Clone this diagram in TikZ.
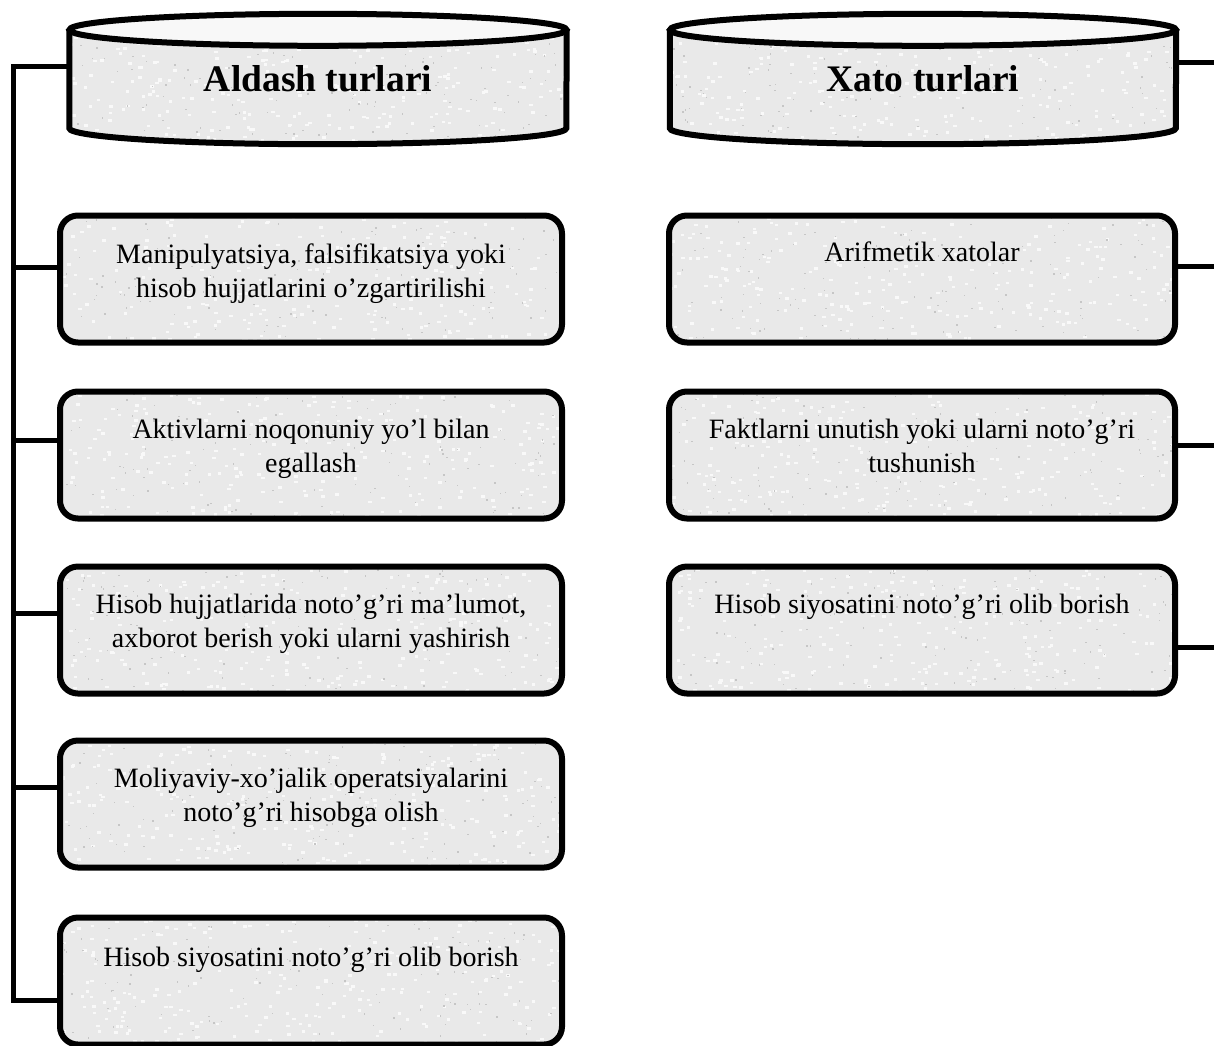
\documentclass[tikz,border=0pt]{standalone}
\usepackage{fontspec}
\setmainfont{Liberation Serif}
\usetikzlibrary{calc}
\definecolor{granite}{HTML}{E9E9E9}
\definecolor{capfill}{HTML}{F8F8F8}
\definecolor{speck}{HTML}{C6C6C6}
\definecolor{lightspeck}{HTML}{F9F9F9}
\pgfmathsetseed{7}
\tikzset{
  speckle/.style 2 args={path picture={
    \foreach \i in {1,...,280}{\fill[lightspeck, sharp corners] ($(path picture bounding box.south west)+({rnd*#1pt},{rnd*#2pt})$) rectangle ++(3.5pt,2.5pt);}
    \foreach \i in {1,...,140}{\fill[speck, sharp corners] ($(path picture bounding box.south west)+({rnd*#1pt},{rnd*#2pt})$) rectangle ++(1.4pt,1.4pt);}
  }},
  boxshape/.style={draw=black, line width=6pt, rounded corners=18pt, fill=granite,
    minimum width=502pt, minimum height=127pt, inner sep=0pt, speckle={510}{135}},
  txt/.style={font=\fontsize{28}{34}\selectfont, align=center, inner sep=0pt, anchor=north},
  ttl/.style={font=\fontsize{37.5}{44}\selectfont\bfseries, inner sep=0pt,
    minimum height=98pt},
  outline/.style={line width=6pt},
  conn/.style={line width=5pt},
}
\begin{document}
\begin{tikzpicture}[x=1pt,y=-1pt]
\useasboundingbox (0,0) rectangle (1214,1045);

% ---------- cylinders ----------
\node[ttl, minimum width=497pt] (c1) at (318,79) {};
\node[ttl, minimum width=506pt] (c2) at (923,79) {};
\foreach \c/\r in {c1/248.5, c2/253}{
  \fill[granite, speckle={520}{120}] (\c.north west) -- (\c.south west)
     arc[start angle=180, end angle=360, x radius=\r pt, y radius=16pt] -- (\c.north east) -- cycle;
  \draw[outline] (\c.north west) -- (\c.south west)
     arc[start angle=180, end angle=360, x radius=\r pt, y radius=16pt] -- (\c.north east);
  \draw[outline, fill=capfill] (\c.north) ellipse[x radius=\r pt, y radius=16pt];
}
\node[ttl] (t1) at (c1.center) {Aldash turlari};
\node[ttl] (t2) at (c2.center) {Xato turlari};

% ---------- left boxes ----------
\node[boxshape] (b1) at (311,279) {};
\node[boxshape] (b2) at (311,455) {};
\node[boxshape] (b3) at (311,630) {};
\node[boxshape] (b4) at (311,804) {};
\node[boxshape] (b5) at (311,981) {};
\node[txt] (tb1) at ($(b1.north)+(0,31)$) {Manipulyatsiya, falsifikatsiya yoki\\hisob hujjatlarini o’zgartirilishi};
\node[txt] (tb2) at ($(b2.north)+(0,30)$) {Aktivlarni noqonuniy yo’l bilan\\egallash};
\node[txt] (tb3) at ($(b3.north)+(0,30)$) {Hisob hujjatlarida noto’g’ri ma’lumot,\\axborot berish yoki ularni yashirish};
\node[txt] (tb4) at ($(b4.north)+(0,30)$) {Moliyaviy-xo’jalik operatsiyalarini\\noto’g’ri hisobga olish};
\node[txt] (tb5) at ($(b5.north)+(0,32)$) {Hisob siyosatini noto’g’ri olib borish};

% ---------- right boxes ----------
\node[boxshape, minimum width=506pt] (r1) at (922,279) {};
\node[boxshape, minimum width=506pt] (r2) at (922,455) {};
\node[boxshape, minimum width=506pt] (r3) at (922,630) {};
\node[txt] (tr1) at ($(r1.north)+(0,29)$) {Arifmetik xatolar};
\node[txt] (tr2) at ($(r2.north)+(0,30)$) {Faktlarni unutish yoki ularni noto’g’ri\\tushunish};
\node[txt] (tr3) at ($(r3.north)+(0,30)$) {Hisob siyosatini noto’g’ri olib borish};

% ---------- left spine ----------
\coordinate (sp1) at (13,66);
\coordinate (sp2) at (13,1000);
\draw[conn] ([yshift=13pt]c1.west) -- (sp1) -- (sp2) -- ([yshift=-19pt]b5.west);
\draw[conn] ([yshift=12pt]b1.west) -- ([yshift=12pt]b1.west -| sp1);
\draw[conn] ([yshift=15pt]b2.west) -- ([yshift=15pt]b2.west -| sp1);
\draw[conn] ([yshift=17pt]b3.west) -- ([yshift=17pt]b3.west -| sp1);
\draw[conn] ([yshift=17pt]b4.west) -- ([yshift=17pt]b4.west -| sp1);

% ---------- right connectors ----------
\coordinate (rx) at (1222,0);
\draw[conn] ([yshift=17pt]c2.east) -- ([yshift=17pt]c2.east -| rx);
\draw[conn] ([yshift=13pt]r1.east) -- ([yshift=13pt]r1.east -| rx);
\draw[conn] ([yshift=10pt]r2.east) -- ([yshift=10pt]r2.east -| rx);
\draw[conn] ([yshift=-17pt]r3.east) -- ([yshift=-17pt]r3.east -| rx);
\end{tikzpicture}
\end{document}
